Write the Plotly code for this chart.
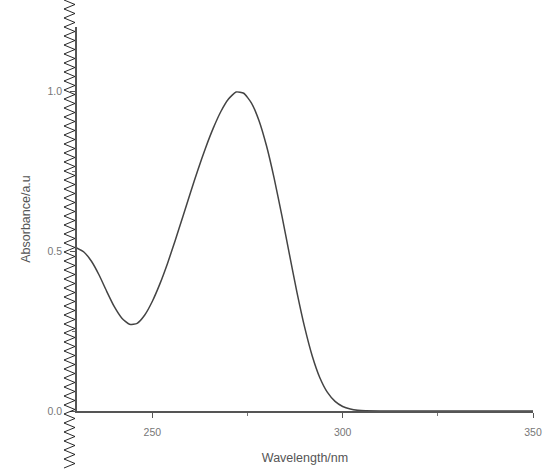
import plotly.graph_objects as go

wavelength = [230, 232, 234, 236, 238, 240, 242, 244, 246, 248, 250, 252, 254, 256, 258,
              260, 262, 264, 266, 268, 270, 272, 274, 276, 278, 280, 282, 284, 286, 288,
              290, 292, 294, 296, 298, 300, 302, 304, 306, 310, 320, 330, 340, 350]
absorbance = [0.51, 0.497, 0.468, 0.425, 0.374, 0.326, 0.29, 0.271, 0.274, 0.30, 0.343,
              0.398, 0.462, 0.533, 0.607, 0.682, 0.755, 0.823, 0.884, 0.936, 0.975, 0.997,
              0.993, 0.963, 0.908, 0.828, 0.727, 0.612, 0.49, 0.37, 0.262, 0.172, 0.104,
              0.058, 0.03, 0.014, 0.006, 0.002, 0.0005, 0.0, 0.0, 0.0, 0.0, 0.0]

W, H = 545, 469
L, R, T, B = 77, 12, 27, 58
pw, ph = W - L - R, H - T - B

fig = go.Figure()
fig.add_trace(go.Scatter(x=wavelength, y=absorbance, mode="lines",
                         line=dict(color="#444444", width=1.5, shape="spline", smoothing=0.5),
                         showlegend=False))

# torn-edge zigzag decoration along the left side
def px_to_paper(x, y):
    return (x - L) / pw, (H - B - y) / ph

pts = []
y = 0.0
i = 0
while y <= H:
    xp = 64 if i % 2 == 0 else 75
    pts.append(px_to_paper(xp, y))
    y += 4.5
    i += 1
path = "M " + " L ".join(f"{a:.5f},{b:.5f}" for a, b in pts)
fig.add_shape(type="path", path=path, xref="paper", yref="paper",
              line=dict(color="#111111", width=0.9), layer="above")

axis_common = dict(showline=True, linecolor="#555555", linewidth=1.5, showgrid=False,
                   zeroline=False, ticks="outside", ticklen=5, tickcolor="#555555",
                   tickfont=dict(family="Liberation Sans, Arial", size=10.5, color="#777777"),
                   mirror=False, automargin=False)

fig.update_xaxes(range=[230.2, 350], tick0=250, dtick=50,
                 minor=dict(ticks="outside", ticklen=3, dtick=25, tick0=250, tickcolor="#777777"),
                 title=dict(text="Wavelength/nm", standoff=16,
                            font=dict(family="Liberation Sans, Arial", size=12.5, color="#555555")),
                 ticklabelstandoff=6, **axis_common)
fig.update_yaxes(range=[0, 1.2], tick0=0, dtick=0.5, tickformat=".1f",
                 minor=dict(ticks="outside", ticklen=3, dtick=0.25, tick0=0, tickcolor="#777777"),
                 title=dict(text="Absorbance/a.u", standoff=14,
                            font=dict(family="Liberation Sans, Arial", size=12.5, color="#555555")),
                 ticklabelstandoff=6, **axis_common)

fig.update_layout(width=W, height=H, margin=dict(l=L, r=R, t=T, b=B),
                  plot_bgcolor="white", paper_bgcolor="white")

fig.write_html("out.html", config={"displayModeBar": False},
               post_script="document.body.style.margin='0';")
